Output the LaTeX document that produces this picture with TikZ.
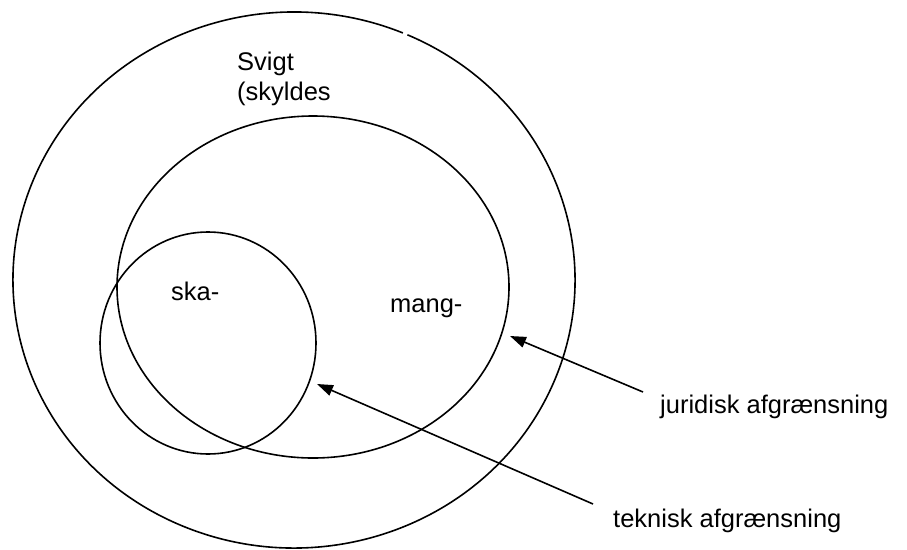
\documentclass[tikz,border=0pt]{standalone}
\usepackage{fontspec}
\setmainfont{Liberation Sans}
\usetikzlibrary{arrows.meta}

\tikzset{
  ring/.style={line width=1.6pt},
  pil/.style={line width=1.6pt, -{Triangle[length=16pt,width=11pt]}},
  tekst/.style={inner sep=0pt, anchor=base west, font=\fontsize{25.5}{30}\selectfont}
}

\begin{document}
\begin{tikzpicture}[x=1pt, y=-1pt]
    \useasboundingbox (0,0) rectangle (907,549);
    % de tre omraader
    \draw[ring] (294,280) ++(-66.2:281 and 268)
        arc[start angle=-66.2, end angle=292.8, x radius=281, y radius=268];
    \draw[ring] (313,287) ellipse [x radius=196, y radius=171];
    \draw[ring] (208,343) ellipse [x radius=108, y radius=111];
    % tekster
    \node[tekst] (svigt) at (237,70) {Svigt};
    \node[tekst] (skyld) at (237,100) {(skyldes};
    \node[tekst] (skade) at (171,300) {ska-};
    \node[tekst] (mangel) at (390,312) {mang-};
    \node[tekst] (jur) at (660,413) {juridisk afgrænsning};
    \node[tekst] (tek) at (613,527) {teknisk afgrænsning};
    % pile
    \coordinate (jurfra) at (643,392);
    \coordinate (jurtil) at (510,336);
    \coordinate (tekfra) at (593,504);
    \coordinate (tektil) at (317,384);
    \draw[pil] (jurfra) -- (jurtil);
    \draw[pil] (tekfra) -- (tektil);
\end{tikzpicture}
\end{document}
